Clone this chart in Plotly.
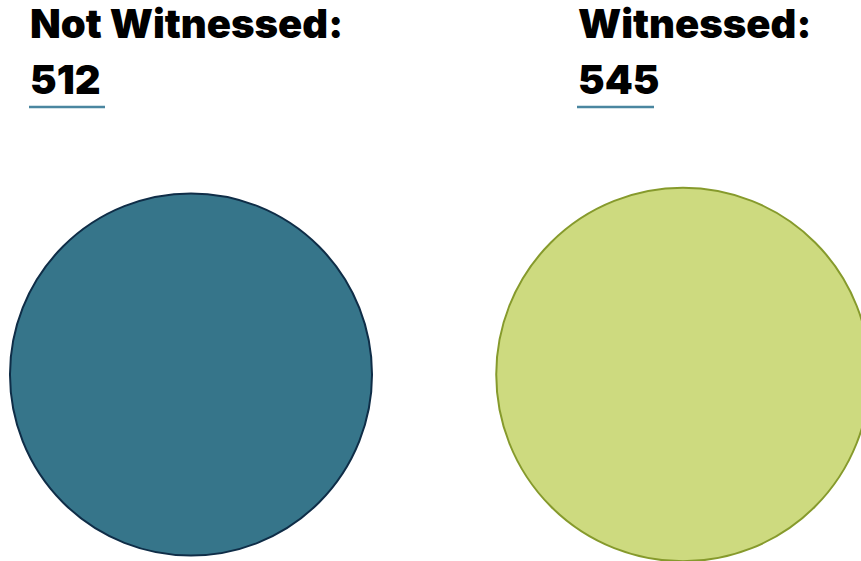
import math
import plotly.graph_objects as go

categories = ["Not Witnessed", "Witnessed"]
values = [512, 545]
labels = ["Not Witnessed:", "Witnessed:"]

fills = ["#36758a", "#cdda7f"]
edges = ["#0f2d47", "#869a2c"]
centers_x = [191, 683]
center_y = 374.5
scale = 8.0  # radius = scale * sqrt(value), area proportional
text_x = [28, 576]
under_x1 = [105, 654]

W, H = 861, 561
fig = go.Figure()
fig.add_trace(go.Scatter(x=[0, W], y=[0, H], mode="markers",
                         marker=dict(opacity=0), hoverinfo="skip", showlegend=False))

FONT = dict(family="Inter", size=40, color="#000000", weight=900)

for i, (cat, v) in enumerate(zip(categories, values)):
    r = scale * math.sqrt(v)
    cx = centers_x[i]
    fig.add_shape(type="circle", xref="x", yref="y",
                  x0=cx - r, x1=cx + r, y0=center_y - r, y1=center_y + r,
                  fillcolor=fills[i], line=dict(color=edges[i], width=2), layer="above")
    fig.add_annotation(x=text_x[i], y=23, xref="x", yref="y", xanchor="left", yanchor="middle",
                       text=labels[i], showarrow=False, font=FONT)
    fig.add_annotation(x=text_x[i], y=79, xref="x", yref="y", xanchor="left", yanchor="middle",
                       text=str(v), showarrow=False, font=FONT)
    fig.add_shape(type="line", xref="x", yref="y", x0=text_x[i] + 1, x1=under_x1[i],
                  y0=107, y1=107, line=dict(color="#4a86a0", width=2.5))

fig.update_xaxes(range=[0, W], visible=False, fixedrange=True)
fig.update_yaxes(range=[H, 0], visible=False, fixedrange=True)
fig.update_layout(width=W, height=H, margin=dict(l=0, r=0, t=0, b=0),
                  paper_bgcolor="white", plot_bgcolor="white", showlegend=False)
fig.write_html("out.html", config={"displayModeBar": False},
               post_script="document.body.style.margin='0px';")
